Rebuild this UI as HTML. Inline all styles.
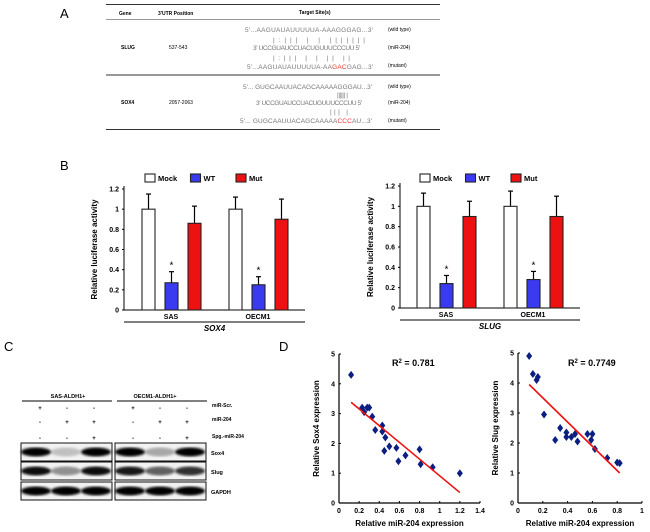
<!DOCTYPE html>
<html><head><meta charset="utf-8"><style>
body{margin:0;background:#fff}
svg{display:block;font-family:"Liberation Sans",Arial,sans-serif}
.b{font-weight:bold}
.seq{font-size:6.5px;fill:#777}
</style></head><body>
<svg id="fig" width="650" height="532" viewBox="0 0 650 532" xmlns="http://www.w3.org/2000/svg">
<g>
<text x="60" y="18" font-size="13">A</text>
<line x1="106" y1="4.5" x2="440" y2="4.5" stroke="#333" stroke-width="1"/>
<line x1="106" y1="19.5" x2="440" y2="19.5" stroke="#333" stroke-width="0.6"/>
<line x1="106" y1="75" x2="440" y2="75" stroke="#333" stroke-width="1"/>
<line x1="106" y1="129.5" x2="440" y2="129.5" stroke="#333" stroke-width="1"/>
<g font-size="5" class="b">
<text x="119" y="15">Gene</text><text x="158" y="15">3'UTR Position</text><text x="299" y="14">Target Site(s)</text></g>
<g font-size="5">
<text x="121" y="49" class="b">SLUG</text><text x="169" y="49">537-543</text>
<text x="121" y="104" class="b">SOX4</text><text x="169" y="104">2057-2063</text>
<text x="388" y="31">(wild type)</text><text x="388" y="49">(miR-204)</text><text x="388" y="67">(mutant)</text>
<text x="388" y="88">(wild type)</text><text x="388" y="104">(miR-204)</text><text x="388" y="122">(mutant)</text></g>
<g class="seq" lengthAdjust="spacing">
<text x="245" y="32" textLength="128">5′...AAGUAUAUUUUUA-AAAGGGAG...3′</text>
<text x="273" y="42" textLength="92">|:|||   | |  |||||||</text>
<text x="253" y="50" textLength="107">3′ UCCGUAUCCUACUGUUUCCCUU 5′</text>
<text x="273" y="60" textLength="77">|:|||   | |  ||   ||</text>
<text x="247" y="69" textLength="126">5′...AAGUAUAUUUUUA-AA<tspan fill="#e33">GAC</tspan>GAG...3′</text>
<text x="243" y="89" textLength="129">5′... GUGCAAUUACAGCAAAAAGGGAU...3′</text>
<text x="337" y="97" textLength="11">|||||| |</text>
<text x="256" y="105" textLength="106">3′ UCCGUAUCCUACUGUUUCCCUU 5′</text>
<text x="330" y="114" textLength="18">|||    |</text>
<text x="240" y="123" textLength="132">5′... GUGCAAUUACAGCAAAAA<tspan fill="#e33">CCC</tspan>AU...3′</text></g>
</g>
<text x="60" y="170" font-size="13">B</text>
<g id="barL"></g>
<g id="barR"></g>
<g>
<text x="4" y="351" font-size="13">C</text>
<g font-size="5.5" class="b">
<text x="68" y="398" text-anchor="middle">SAS-ALDH1+</text>
<text x="155" y="398" text-anchor="middle">OECM1-ALDH1+</text></g>
<line x1="22" y1="401" x2="112" y2="401" stroke="#000"/>
<line x1="117" y1="401" x2="207" y2="401" stroke="#000"/>
<g font-size="6" class="b" text-anchor="middle" id="pm"></g>
<g font-size="5" class="b"><text x="212" y="407">miR-Scr.</text><text x="212" y="421">miR-204</text><text x="212" y="438">Spg.-miR-204</text>
<text x="211" y="455" font-size="5.5">Sox4</text><text x="211" y="474" font-size="5.5">Slug</text><text x="211" y="494" font-size="5.5">GAPDH</text></g>
<defs><filter id="bl"><feGaussianBlur stdDeviation="1.4"/></filter></defs>
<g id="blots"></g>
</g>
<text x="279" y="351" font-size="13">D</text>
<g id="scL"></g>
<g id="scR"></g>
</svg>
<script>
const NS='http://www.w3.org/2000/svg';
function mk(p,t,a,txt){const e=document.createElementNS(NS,t);for(const k in a)e.setAttribute(k,a[k]);if(txt!=null)e.textContent=txt;p.appendChild(e);return e;}
// Bar data
const groups=['SAS','OECM1'];
const seriesNames=['Mock','WT','Mut'];
const sox4Vals=[[1,0.27,0.86],[1,0.25,0.90]];
const sox4Err=[[0.15,0.11,0.17],[0.12,0.08,0.20]];
const slugVals=[[1,0.24,0.90],[1,0.28,0.90]];
const slugErr=[[0.13,0.08,0.15],[0.15,0.08,0.20]];
const barTicks=['0','0.2','0.4','0.6','0.8','1','1.2'];
const colors=['#fff','#3a3af0','#ee1111'];
function barChart(g,ax,y0,y12,xEnd,gStarts,vals,errs,gene){
  const Y=v=>y0-(y0-y12)*v/1.2;
  mk(g,'line',{x1:ax,y1:y12-3,x2:ax,y2:y0,stroke:'#000','stroke-width':1});
  mk(g,'line',{x1:ax,y1:y0,x2:xEnd,y2:y0,stroke:'#000','stroke-width':1});
  barTicks.forEach((t,i)=>{const y=Y(+t);mk(g,'line',{x1:ax-2,y1:y,x2:ax,y2:y,stroke:'#000'});
    const tx=mk(g,'text',{x:ax-5,y:y+2.5,'font-size':7,'font-weight':'bold','text-anchor':'end'},t);
    });
  const yt=mk(g,'text',{transform:`translate(${ax-27},${(y0+y12)/2}) rotate(-90)`,'font-size':8,'font-weight':'bold','text-anchor':'middle'},'Relative luciferase activity');
  
  groups.forEach((gn,gi)=>{
    vals[gi].forEach((v,si)=>{const x=gStarts[gi]+si*23;const top=Y(v+errs[gi][si]);
      mk(g,'line',{x1:x+6.5,y1:top,x2:x+6.5,y2:Y(v),stroke:'#000','stroke-width':1.2});
      mk(g,'line',{x1:x+4,y1:top,x2:x+9,y2:top,stroke:'#000','stroke-width':1.2});
      const r=mk(g,'rect',{x:x,y:Y(v),width:13,height:y0-Y(v),fill:colors[si],stroke:'#222','stroke-width':1.1});
      
      if(si===1)mk(g,'text',{x:x+6.5,y:top-3,'font-size':10,'text-anchor':'middle'},'*');});
    const lb=mk(g,'text',{x:gStarts[gi]+29,y:y0+9,'font-size':7,'font-weight':'bold','text-anchor':'middle'},gn);
    });
  mk(g,'line',{x1:ax,y1:y0+12,x2:xEnd,y2:y0+12,stroke:'#000','stroke-width':1});
  mk(g,'text',{x:(ax+xEnd)/2,y:y0+21,'font-size':8,'font-weight':'bold','font-style':'italic','text-anchor':'middle'},gene);
  const lx=gStarts[0]+3;
  seriesNames.forEach((n,i)=>{const x=lx+i*45.5;
    const r=mk(g,'rect',{x:x,y:174,width:10,height:8,fill:colors[i],stroke:'#222','stroke-width':1.1});
    
    mk(g,'text',{x:x+13,y:181,'font-size':7.5,'font-weight':'bold'},n);});
}
barChart(document.getElementById('barL'),124,310,189,305,[142,229],sox4Vals,sox4Err,'SOX4');
barChart(document.getElementById('barR'),400,308,186,580,[417,504],slugVals,slugErr,'SLUG');
// Panel C
const pmRows=[['+','-','-','+','-','-'],['-','+','+','-','+','+'],['-','-','+','-','-','+']];
const pmX=[40,67,94,133,160,187],pmY=[410,424,440];
const pm=document.getElementById('pm');
pmRows.forEach((r,ri)=>r.forEach((s,ci)=>mk(pm,'text',{x:pmX[ci],y:pmY[ri]},s)));
const bandInt=[[1,0.2,1],[1,0.3,1],[0.95,0.4,0.95],[0.9,0.6,0.8],[1,1,1],[1,1,1]];
const blots=document.getElementById('blots');
[[443,'sox4'],[462,'slug'],[482,'gapdh']].forEach(([y,n],ri)=>{
  [[21,0],[115,3]].forEach(([bx,ci],bi)=>{
    const g=mk(blots,'g',{});
    mk(g,'rect',{x:bx,y:y,width:91,height:18,fill:'#f2f2f2',stroke:'#111','stroke-width':1});
    for(let k=0;k<3;k++){const v=bandInt[ri*2+bi][k];
      mk(g,'ellipse',{cx:bx+15+k*30,cy:y+9,rx:15,ry:4.5,fill:'#000',opacity:v,filter:'url(#bl)'});}
  });});
// Scatter data
const sox4X=[0.12,0.23,0.25,0.28,0.30,0.33,0.36,0.43,0.43,0.45,0.46,0.50,0.57,0.59,0.66,0.80,0.81,0.93,1.20];
const sox4Y=[4.3,3.2,3.05,3.2,3.2,2.9,2.45,2.6,2.4,1.75,2.2,1.9,1.85,1.4,1.6,1.8,1.3,1.2,1.0];
const sox4Fit=[[0.12,3.38],[1.2,0.35]];
const slugX=[0.09,0.12,0.15,0.16,0.21,0.30,0.34,0.39,0.39,0.43,0.46,0.48,0.56,0.59,0.60,0.62,0.72,0.80,0.82];
const slugY=[4.9,4.3,4.1,4.2,2.95,2.1,2.5,2.2,2.35,2.2,2.3,2.05,2.3,2.1,2.3,1.8,1.5,1.35,1.33];
const slugFit=[[0.09,3.95],[0.82,1.0]];
const sox4XTicks=['0','0.2','0.4','0.6','0.8','1','1.2','1.4'];
const slugXTicks=['0','0.2','0.4','0.6','0.8','1'];
const scYTicks=['0','1','2','3','4','5'];
function scatter(g,ax,y0,y5,xMaxPx,xMax,xt,xs,ys,fit,ytitle,r2,r2x){
  const X=v=>ax+(xMaxPx-ax)*v/xMax,Y=v=>y0-(y0-y5)*v/5;
  mk(g,'line',{x1:ax,y1:y5,x2:ax,y2:y0,stroke:'#000','stroke-width':1.2});
  mk(g,'line',{x1:ax,y1:y0,x2:xMaxPx,y2:y0,stroke:'#000','stroke-width':1.2});
  scYTicks.forEach(t=>{const y=Y(+t);mk(g,'line',{x1:ax,y1:y,x2:ax+2,y2:y,stroke:'#000'});
    const e=mk(g,'text',{x:ax-4,y:y+2.5,'font-size':7,'font-weight':'bold','text-anchor':'end'},t);
    });
  xt.forEach(t=>{const x=X(+t);mk(g,'line',{x1:x,y1:y0,x2:x,y2:y0-2,stroke:'#000'});
    const e=mk(g,'text',{x:x,y:y0+10,'font-size':7,'font-weight':'bold','text-anchor':'middle'},t);
    });
  const xtl=mk(g,'text',{x:(ax+xMaxPx)/2,y:y0+23,'font-size':8,'font-weight':'bold','text-anchor':'middle'},'Relative miR-204 expression');
  
  const ytl=mk(g,'text',{transform:`translate(${ax-20},${(y0+y5)/2}) rotate(-90)`,'font-size':8,'font-weight':'bold','text-anchor':'middle'},ytitle);
  
  xs.forEach((x,i)=>{const cx=X(x),cy=Y(ys[i]);
    const p=mk(g,'path',{d:`M${cx},${cy-4}L${cx+3},${cy}L${cx},${cy+4}L${cx-3},${cy}Z`,fill:'#0b1f80'});
    });
  const l=mk(g,'line',{x1:X(fit[0][0]),y1:Y(fit[0][1]),x2:X(fit[1][0]),y2:Y(fit[1][1]),stroke:'#ee1111','stroke-width':1.6});
  
  const t=mk(g,'text',{x:r2x,y:366,'font-size':9,'font-weight':'bold'});
  t.innerHTML='R<tspan font-size="6" dy="-3">2</tspan><tspan dy="3"> = '+r2+'</tspan>';
  
}
scatter(document.getElementById('scL'),339,503,354,480,1.4,sox4XTicks,sox4X,sox4Y,sox4Fit,'Relative Sox4 expression','0.781',392);
scatter(document.getElementById('scR'),518,503,353,642,1,slugXTicks,slugX,slugY,slugFit,'Relative Slug expression','0.7749',568);
</script>
</body></html>
